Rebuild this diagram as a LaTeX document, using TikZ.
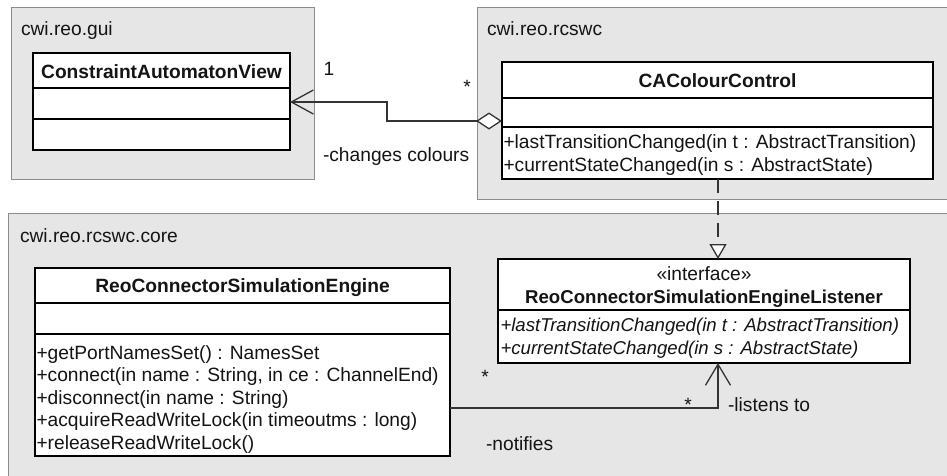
\documentclass[tikz,border=0pt]{standalone}
\usepackage{fontspec}
\setmainfont{Liberation Sans}
\usetikzlibrary{arrows.meta}
\definecolor{pkgfill}{HTML}{E6E6E6}
\definecolor{pkgline}{HTML}{8C8C8C}
\definecolor{linec}{HTML}{333333}
\definecolor{txt}{HTML}{141414}
\begin{document}
\begin{tikzpicture}[x=1pt,y=-1pt,
  every node/.style={inner sep=0pt, outer sep=0pt, text=txt},
  txtn/.style={font=\fontsize{19.2}{22}\selectfont},
  txtb/.style={font=\fontsize{19.2}{22}\selectfont\bfseries},
  txti/.style={font=\fontsize{18.6}{22}\selectfont\itshape},
  pkg/.style={draw=pkgline, fill=pkgfill, line width=0.9pt, anchor=north west},
  classbox/.style={draw=black, fill=white, line width=1.3pt, anchor=north west},
  divline/.style={draw=black, line width=1.3pt},
  lbl/.style={txtn, anchor=base west},
  ctr/.style={anchor=base},
  conn/.style={draw=linec, line width=1.4pt}]
\useasboundingbox (0,0) rectangle (947,475);
\fill[white] (0,0) rectangle (947,475);
\clip (0,0) rectangle (947,475);

% packages
\node[pkg, minimum width=303pt, minimum height=172pt] (gui) at (11,7) {};
\node[pkg, minimum width=475pt, minimum height=192pt] (rcswc) at (477,7) {};
\node[pkg, minimum width=944pt, minimum height=270pt] (core) at (8,213) {};
\node[lbl] (guilbl) at (21,35) {cwi.reo.gui};
\node[lbl] (rcswclbl) at (487,35) {cwi.reo.rcswc};
\node[lbl] (corelbl) at (20,242) {cwi.reo.rcswc.core};

% ConstraintAutomatonView
\node[classbox, minimum width=257pt, minimum height=97pt] (cav) at (33,53) {};
\draw[divline] (cav.west |- 0,88) -- (cav.east |- 0,88);
\draw[divline] (cav.west |- 0,119) -- (cav.east |- 0,119);
\node[ctr, txtb] (cavname) at (161.5,78) {ConstraintAutomatonView};

% CAColourControl
\node[classbox, minimum width=431pt, minimum height=117pt] (cca) at (502,62) {};
\draw[divline] (cca.west |- 0,98) -- (cca.east |- 0,98);
\draw[divline] (cca.west |- 0,127) -- (cca.east |- 0,127);
\node[ctr, txtb] (ccaname) at (717.5,87) {CAColourControl};
\node[lbl] (ccam1) at (503.5,148) {+lastTransitionChanged(in t : AbstractTransition)};
\node[lbl] (ccam2) at (503.5,171) {+currentStateChanged(in s : AbstractState)};

% ReoConnectorSimulationEngine
\node[classbox, minimum width=415pt, minimum height=188pt] (eng) at (35,268) {};
\draw[divline] (eng.west |- 0,303) -- (eng.east |- 0,303);
\draw[divline] (eng.west |- 0,334) -- (eng.east |- 0,334);
\node[ctr, txtb] (engname) at (242.5,292) {ReoConnectorSimulationEngine};
\node[lbl] (engm1) at (36.5,359) {+getPortNamesSet() : NamesSet};
\node[lbl] (engm2) at (36.5,381.5) {+connect(in name : String, in ce : ChannelEnd)};
\node[lbl] (engm3) at (36.5,404) {+disconnect(in name : String)};
\node[lbl] (engm4) at (36.5,426.5) {+acquireReadWriteLock(in timeoutms : long)};
\node[lbl] (engm5) at (36.5,449) {+releaseReadWriteLock()};

% ReoConnectorSimulationEngineListener
\node[classbox, minimum width=412pt, minimum height=104pt] (lis) at (498,259) {};
\draw[divline] (lis.west |- 0,310) -- (lis.east |- 0,310);
\node[ctr, txtn] (lisster) at (704,280) {«interface»};
\node[ctr, txtb, font=\fontsize{18.6}{22}\selectfont\bfseries] (lisname) at (704,303) {ReoConnectorSimulationEngineListener};
\node[txti, anchor=base west] (lism1) at (500.5,331) {+lastTransitionChanged(in t : AbstractTransition)};
\node[txti, anchor=base west] (lism2) at (500.5,354) {+currentStateChanged(in s : AbstractState)};

% connectors
\coordinate (bendA) at (387,121);
\coordinate (bendB) at (387,102);
\draw[conn, {Diamond[length=26pt,width=17pt,fill=white,line width=1.3pt]}-{Straight Barb[length=22pt,width=24pt,line width=1.3pt]}]
  (cca.west |- bendA) -- (bendA) -- (bendB) -- (cav.east |- bendB);
\node[ctr, txtn] (one) at (329,75) {1};
\node[ctr, txtn] (starA) at (467,93) {*};
\node[lbl] (changes) at (323,161) {-changes colours};

\coordinate (dx) at (718,0);
\draw[conn, dash pattern=on 14pt off 8pt, -{Triangle[open,length=15pt,width=17pt,fill=white,line width=1.3pt]}]
  (cca.south -| dx) -- (lis.north -| dx);

\coordinate (bendC) at (718,408);
\draw[conn, -{Straight Barb[length=21pt,width=25pt,line width=1.3pt]}]
  (eng.east |- bendC) -- (bendC) -- (lis.south -| bendC);
\node[ctr, txtn] (starB) at (485,383) {*};
\node[ctr, txtn] (starC) at (688,411) {*};
\node[lbl] (listens) at (728,411) {-listens to};
\node[lbl] (notifies) at (486,450) {-notifies};
\end{tikzpicture}
\end{document}
